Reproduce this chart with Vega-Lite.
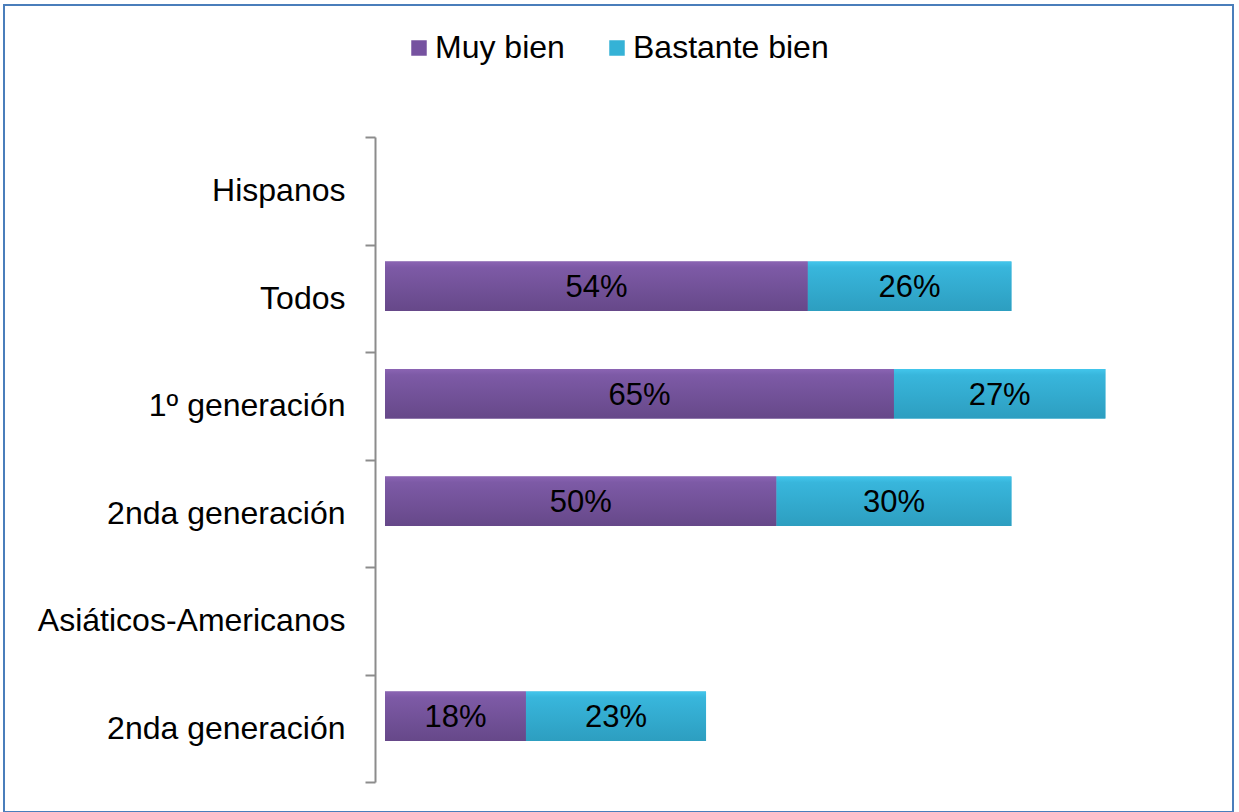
{
  "$schema": "https://vega.github.io/schema/vega-lite/v6.json",
  "width": 1229,
  "height": 807,
  "autosize": {"type": "none"},
  "padding": {"left": 4, "top": 5, "right": 6, "bottom": 0},
  "background": "white",
  "config": {
    "view": {"stroke": "#4a7ebb", "strokeWidth": 2},
    "font": "Liberation Sans"
  },
  "data": {
    "values": [
      {"grupo": "Todos", "serie": "Muy bien", "valor": 54},
      {"grupo": "Todos", "serie": "Bastante bien", "valor": 26},
      {"grupo": "1º generación", "serie": "Muy bien", "valor": 65},
      {"grupo": "1º generación", "serie": "Bastante bien", "valor": 27},
      {"grupo": "2nda generación", "serie": "Muy bien", "valor": 50},
      {"grupo": "2nda generación", "serie": "Bastante bien", "valor": 30},
      {"grupo": "2nda generación (AA)", "serie": "Muy bien", "valor": 18},
      {"grupo": "2nda generación (AA)", "serie": "Bastante bien", "valor": 23}
    ]
  },
  "transform": [
    {"stack": "valor", "groupby": ["grupo"], "sort": [{"field": "serie", "order": "descending"}], "as": ["v0", "v1"]},
    {"calculate": "(datum.v0 + datum.v1) / 2", "as": "medio"},
    {"calculate": "datum.valor + '%'", "as": "etiqueta"}
  ],
  "encoding": {
    "y": {
      "field": "grupo",
      "type": "nominal",
      "sort": null,
      "scale": {
        "domain": ["Hispanos", "Todos", "1º generación", "2nda generación", "Asiáticos-Americanos", "2nda generación (AA)"],
        "range": [132, 777],
        "paddingInner": 0,
        "paddingOuter": 0
      },
      "axis": {
        "title": null,
        "orient": "left",
        "offset": -371,
        "tickBand": "extent",
        "tickSize": 10,
        "tickColor": "#8c8c8c",
        "tickWidth": 2,
        "domainColor": "#8c8c8c",
        "domainWidth": 2,
        "labelPadding": 20,
        "labelFontSize": 32,
        "labelFont": "Liberation Sans",
        "labelColor": "#000000",
        "labelLimit": 0,
        "labelExpr": "replace(datum.label, ' (AA)', '')"
      }
    }
  },
  "layer": [
    {
      "mark": {"type": "bar", "height": {"band": 0.46}, "yOffset": -12},
      "encoding": {
        "x": {"field": "v0", "type": "quantitative", "scale": {"domain": [0, 100], "range": [381, 1164]}, "axis": null},
        "x2": {"field": "v1"},
        "color": {
          "field": "serie",
          "type": "nominal",
          "scale": {"domain": ["Muy bien", "Bastante bien"], "range": ["#7652a0", "#35b2d6"]},
          "legend": {
            "title": null,
            "orient": "none",
            "direction": "horizontal",
            "legendX": 399,
            "legendY": 27,
            "symbolType": "square",
            "symbolSize": 240,
            "symbolStrokeWidth": 0,
            "labelFontSize": 32,
            "labelFont": "Liberation Sans",
            "labelColor": "#000000",
            "labelOffset": 0,
            "columnPadding": 36,
            "labelLimit": 0
          }
        }
      }
    },
    {
      "transform": [{"filter": "datum.serie == 'Muy bien'"}],
      "mark": {
        "type": "bar", "height": {"band": 0.46}, "yOffset": -12,
        "color": {"gradient": "linear", "x1": 0, "y1": 0, "x2": 0, "y2": 1,
          "stops": [{"offset": 0, "color": "#8b64b3"}, {"offset": 0.12, "color": "#7d5aa6"}, {"offset": 1, "color": "#664889"}]}
      },
      "encoding": {
        "x": {"field": "v0", "type": "quantitative"},
        "x2": {"field": "v1"}
      }
    },
    {
      "transform": [{"filter": "datum.serie == 'Bastante bien'"}],
      "mark": {
        "type": "bar", "height": {"band": 0.46}, "yOffset": -12,
        "color": {"gradient": "linear", "x1": 0, "y1": 0, "x2": 0, "y2": 1,
          "stops": [{"offset": 0, "color": "#42c6ec"}, {"offset": 0.12, "color": "#38b6dc"}, {"offset": 1, "color": "#2d9ec0"}]}
      },
      "encoding": {
        "x": {"field": "v0", "type": "quantitative"},
        "x2": {"field": "v1"}
      }
    },
    {
      "mark": {"type": "text", "fontSize": 31, "font": "Liberation Sans", "color": "#000000", "baseline": "middle", "align": "center", "yOffset": -10},
      "encoding": {
        "x": {"field": "medio", "type": "quantitative"},
        "text": {"field": "etiqueta", "type": "nominal"}
      }
    }
  ]
}
